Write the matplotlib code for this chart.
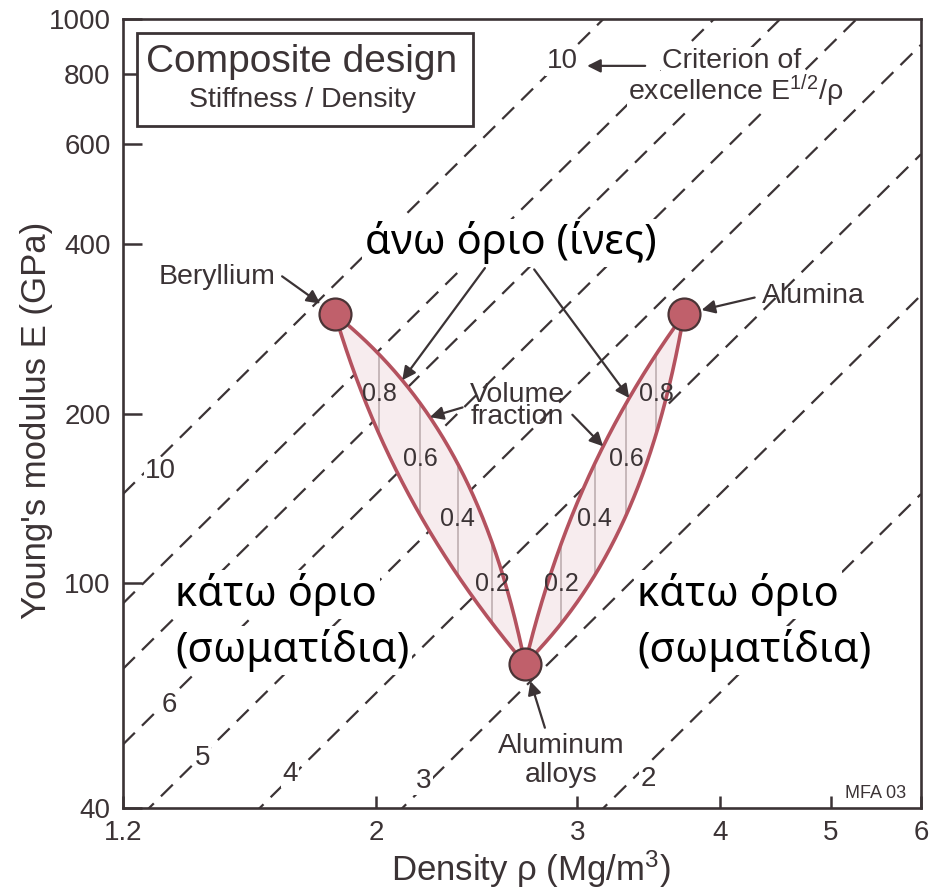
import numpy as np
import matplotlib
matplotlib.use("Agg")
from matplotlib import pyplot as plt
from matplotlib.patches import Rectangle
from matplotlib.ticker import NullLocator

# materials: density (Mg/m^3) and Young's modulus (GPa)
names = ["Beryllium", "Alumina", "Aluminum alloys"]
rho = [1.84, 3.72, 2.7]
E = [300, 300, 72]

# guide lines E^(1/2)/rho = C
criterion = [2, 3, 4, 5, 6, 7, 8, 10]
crit_labels = ["10", "10", "6", "5", "4", "3", "2"]
crit_pos = [(1.295, 158), (2.91, 841), (1.318, 61), (1.408, 49),
            (1.68, 46), (2.20, 44.7), (3.46, 45)]

fractions = [0.2, 0.4, 0.6, 0.8]

xticks = [1.2, 2, 3, 4, 5, 6]
xticklabels = ["1.2", "2", "3", "4", "5", "6"]
yticks = [40, 100, 200, 400, 600, 800, 1000]

ink = "#3b3335"
red = "#b4525f"
dot = "#c0606b"
pink = "#f7ecee"

plt.rcParams["font.family"] = ["Liberation Sans", "DejaVu Sans"]
plt.rcParams["mathtext.fontset"] = "custom"
plt.rcParams["mathtext.rm"] = "Liberation Sans"
plt.rcParams["mathtext.it"] = "Liberation Sans:italic"
greek = ["Noto Sans", "DejaVu Sans"]

fig = plt.figure(figsize=(9.36, 8.9), dpi=100)
ax = fig.add_axes([123 / 936, 82 / 890, 798 / 936, 789 / 890])
ax.set_xscale("log")
ax.set_yscale("log")
ax.set_xlim(1.2, 6)
ax.set_ylim(40, 1000)

for s in ax.spines.values():
    s.set_color(ink)
    s.set_linewidth(1.9)

ax.set_xticks(xticks)
ax.set_xticklabels(xticklabels)
ax.set_yticks(yticks)
ax.set_yticklabels([str(v) for v in yticks])
ax.xaxis.set_minor_locator(NullLocator())
ax.yaxis.set_minor_locator(NullLocator())
ax.tick_params(axis="both", direction="in", colors=ink, labelsize=20, width=1.8)
ax.tick_params(axis="y", length=14, pad=9)
ax.tick_params(axis="x", length=9, pad=9)

fig.text(37 / 936, 1 - 420 / 890, "Young's modulus E (GPa)", rotation=90,
         ha="center", va="center", fontsize=25, color=ink)
fig.text(531 / 936, 1 - 869 / 890, r"Density ρ (Mg/m$^{\mathrm{3}}$)",
         ha="center", va="center", fontsize=25, color=ink)

# dashed guide lines
rr = np.geomspace(1.2, 6, 300)
for c in criterion:
    ax.plot(rr, (c * rr) ** 2, color=ink, lw=1.6, dashes=(7.5, 4.5), zorder=1)
for lab, (x, y) in zip(crit_labels, crit_pos):
    ax.text(x, y, lab, ha="center", va="center", fontsize=20, color=ink, zorder=2,
            bbox=dict(fc="white", ec="none", pad=1))

# composite bounds between aluminium alloy and each reinforcement
f = np.linspace(0, 1, 300)
al = 2
upper = {}
for i in (0, 1):
    r = f * rho[i] + (1 - f) * rho[al]
    up = f * E[i] + (1 - f) * E[al]
    lo = 1 / (f / E[i] + (1 - f) / E[al])
    upper[i] = (r, up)
    ax.fill(np.r_[r, r[::-1]], np.r_[up, lo[::-1]], color=pink, zorder=3)
    for v in fractions:
        rv = v * rho[i] + (1 - v) * rho[al]
        uv = v * E[i] + (1 - v) * E[al]
        lv = 1 / (v / E[i] + (1 - v) / E[al])
        ax.plot([rv, rv], [lv, uv], color="#b9a9ab", lw=1.1, zorder=4)
        ax.text(rv, np.sqrt(uv * lv), f"{v:.1f}", ha="center", va="center",
                fontsize=18, color=ink, zorder=6)
    ax.plot(r, up, color=red, lw=2.6, zorder=5)
    ax.plot(r, lo, color=red, lw=2.6, zorder=5)

ax.plot(rho, E, "o", ms=23, mfc=dot, mec="#4a3436", mew=1.6, zorder=7)


def on_upper(i, v):
    r, up = upper[i]
    k = int(round(v * (len(f) - 1)))
    return r[k], up[k]


arrow = dict(arrowstyle="-|>", color=ink, lw=1.6, mutation_scale=20,
             shrinkA=0, shrinkB=0)
circle_arrow = dict(arrow, shrinkB=13)
white = dict(fc="white", ec="none", pad=1)

# title box
ax.add_patch(Rectangle((0.0175, 0.8644), 0.4211, 0.1179, transform=ax.transAxes,
                       fc="white", ec=ink, lw=2.0, zorder=8))
ax.text(0.2243, 0.9328, "Composite design", transform=ax.transAxes, ha="center",
        va="baseline", fontsize=28, color=ink, zorder=9)
ax.text(0.2250, 0.8885, "Stiffness / Density", transform=ax.transAxes, ha="center",
        va="baseline", fontsize=20.5, color=ink, zorder=9)

# labels with arrows
ax.text(0.1905, 0.6641, names[0], transform=ax.transAxes, ha="right",
        va="baseline", fontsize=20.5, color=ink, zorder=9)
ax.annotate("", xy=(rho[0], E[0]), xytext=(1.654, 350), arrowprops=circle_arrow,
            zorder=9)
ax.text(0.8008, 0.6400, names[1], transform=ax.transAxes, ha="left",
        va="baseline", fontsize=20.5, color=ink, zorder=9)
ax.annotate("", xy=(rho[1], E[1]), xytext=(4.29, 321), arrowprops=circle_arrow,
            zorder=9)
ax.text(0.5489, 0.0697, "Aluminum", transform=ax.transAxes, ha="center",
        va="baseline", fontsize=20.5, color=ink, zorder=9)
ax.text(0.5489, 0.0330, "alloys", transform=ax.transAxes, ha="center",
        va="baseline", fontsize=20.5, color=ink, zorder=9)
ax.annotate("", xy=(rho[2], E[2]), xytext=(2.81, 55.5), arrowprops=circle_arrow,
            zorder=9)

ax.text(0.7632, 0.9379, "Criterion of", transform=ax.transAxes, ha="center",
        va="baseline", fontsize=20.5, color=ink, zorder=9, bbox=white)
ax.text(0.7682, 0.8973, r"excellence E$^{\mathrm{1/2}}$/ρ", transform=ax.transAxes,
        ha="center", va="baseline", fontsize=20.5, color=ink, zorder=9, bbox=white)
ax.annotate("", xy=(3.06, 826), xytext=(3.44, 826), arrowprops=arrow, zorder=9)

ax.text(0.4937, 0.5095, "Volume\nfraction", transform=ax.transAxes, ha="center",
        va="center", multialignment="center", linespacing=0.78,
        fontsize=20.5, color=ink, zorder=9)
ax.annotate("", xy=on_upper(0, 0.55), xytext=(2.38, 205), arrowprops=arrow, zorder=9)
ax.annotate("", xy=on_upper(1, 0.45), xytext=(2.97, 199), arrowprops=arrow, zorder=9)

ax.text(0.9812, 0.0127, "MFA 03", transform=ax.transAxes, ha="right",
        va="baseline", fontsize=13, color=ink, zorder=9)

# greek annotations
ax.text(0.4862, 0.7161, "άνω όριο (ίνες)", transform=ax.transAxes, ha="center",
        va="center", fontsize=30, color="black", family=greek, zorder=10,
        bbox=dict(fc="white", ec="none", pad=2))
ax.annotate("", xy=on_upper(0, 0.69), xytext=(2.49, 362), arrowprops=arrow, zorder=9)
ax.annotate("", xy=on_upper(1, 0.62), xytext=(2.75, 360), arrowprops=arrow, zorder=9)

for x0 in (0.0652, 0.6441):
    ax.text(x0, 0.2560, "κάτω όριο", transform=ax.transAxes, ha="left",
            va="baseline", fontsize=30, color="black", family=greek, zorder=10,
            bbox=dict(fc="white", ec="none", pad=2))
    ax.text(x0, 0.1850, "(σωματίδια)", transform=ax.transAxes, ha="left",
            va="baseline", fontsize=30, color="black", family=greek, zorder=10,
            bbox=dict(fc="white", ec="none", pad=2))

fig.savefig("out.png", dpi=100)
